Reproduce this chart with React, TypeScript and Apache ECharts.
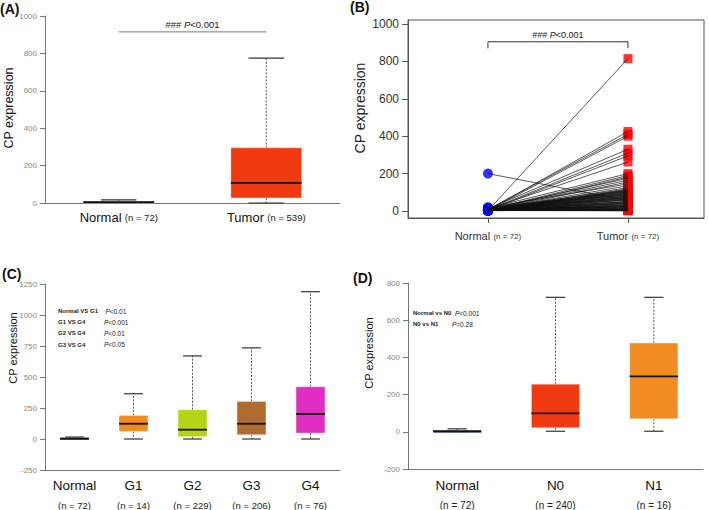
import React, { useEffect, useRef } from 'react';
import * as echarts from 'echarts';

// ---------- Panel A ----------
const catsA = ['Normal', 'Tumor'];
const nA = ['72', '539'];
// [min, q1, median, q3, max]
const statsA = [
  [0, 2, 5, 8, 17],
  [0, 27, 108, 295, 775],
];
const sigA = 915;

// ---------- Panel B (paired) ----------
const catsB = ['Normal', 'Tumor'];
const nB = ['72', '72'];
const yTicksB = [0, 200, 400, 600, 800, 1000];
const normalB = [
  2, 5, 8, 3, 12, 6, 4, 10, 15, 7,
  3, 9, 5, 2, 18, 6, 4, 11, 3, 8,
  5, 2, 7, 14, 4, 6, 3, 9, 2, 5,
  20, 4, 7, 3, 6, 12, 2, 5, 8, 3,
  4, 6, 200, 2, 9, 5, 3, 7, 4, 10,
  2, 6, 3, 5, 8, 2, 4, 16, 3, 6,
  2, 5, 7, 3, 4, 2, 9, 3, 5, 2,
  4, 3,
];
const tumorB = [
  815, 425, 410, 400, 330, 310, 295, 262, 200, 190,
  182, 175, 165, 155, 145, 135, 125, 118, 115, 112,
  110, 108, 105, 102, 100, 98, 95, 92, 90, 88,
  85, 82, 80, 78, 75, 72, 70, 68, 65, 62,
  60, 58, 55, 52, 50, 48, 45, 42, 40, 38,
  35, 32, 30, 28, 26, 24, 22, 20, 18, 16,
  14, 12, 10, 9, 8, 7, 6, 5, 4, 3,
  2, 1,
];
const sigB = 905;

// ---------- Panel C ----------
const catsC = ['Normal', 'G1', 'G2', 'G3', 'G4'];
const nC = ['72', '14', '229', '206', '76'];
const statsC = [
  [0, 1, 4, 8, 16],
  [0, 62, 123, 190, 365],
  [0, 19, 75, 236, 670],
  [0, 35, 123, 303, 735],
  [0, 48, 201, 421, 1188],
];
const compC = ['Normal VS G1', 'G1 VS G4', 'G2 VS G4', 'G3 VS G4'];
const pC = ['<0.01', '<0.001', '<0.01', '<0.05'];

// ---------- Panel D ----------
const catsD = ['Normal', 'N0', 'N1'];
const nD = ['72', '240', '16'];
const statsD = [
  [0, 1, 3, 6, 16],
  [3, 22, 99, 256, 723],
  [3, 70, 298, 477, 723],
];
const compD = ['Normal vs N0', 'N0 vs N1'];
const pD = ['<0.001', '=0.28'];

// ---------- styles ----------
const SANS = "'Liberation Sans', Arial, sans-serif";
const colorsA = ['#25308C', '#F23A12'];
const colorsC = ['#444444', '#F28A1F', '#B5D414', '#B06C30', '#E02DC2'];
const colorsD = ['#2B3A9A', '#F23A12', '#F08C22'];

const boxRender = (colors: string[], widthFrac: number, capFrac: number) => (params: any, api: any) => {
  const i = params.dataIndex;
  const x = api.value(0);
  const mn = api.value(1), q1 = api.value(2), md = api.value(3), q3 = api.value(4), mx = api.value(5);
  const band = api.size([1, 0])[0];
  const w = band * widthFrac;
  const cw = w * capFrac;
  const cx = api.coord([x, md])[0];
  const y = (v: number) => api.coord([x, v])[1];
  const dash = { stroke: '#555', lineWidth: 1, lineDash: [2, 1.5] };
  const solid = { stroke: '#333', lineWidth: 1.2 };
  const top = y(q3);
  const h = Math.max(y(q1) - top, 2);
  return {
    type: 'group',
    children: [
      { type: 'line', shape: { x1: cx, y1: y(q3), x2: cx, y2: y(mx) }, style: dash },
      { type: 'line', shape: { x1: cx, y1: y(q1), x2: cx, y2: y(mn) }, style: dash },
      { type: 'line', shape: { x1: cx - cw / 2, y1: y(mx), x2: cx + cw / 2, y2: y(mx) }, style: solid },
      { type: 'line', shape: { x1: cx - cw / 2, y1: y(mn), x2: cx + cw / 2, y2: y(mn) }, style: solid },
      { type: 'rect', shape: { x: cx - w / 2, y: top, width: w, height: h }, style: { fill: colors[i], stroke: 'rgba(255,255,255,0.35)', lineWidth: 1 } },
      { type: 'line', shape: { x1: cx - w / 2, y1: y(md), x2: cx + w / 2, y2: y(md) }, style: { stroke: '#111', lineWidth: 1.8 } },
    ],
  };
};

const boxData = (stats: number[][]) => stats.map((s, i) => [i, ...s]);

const catLabel = (ns: string[], twoLine: boolean) => (v: string, i: number) =>
  twoLine ? `{a|${v}}\n{b|(n = ${ns[i]})}` : `{a|${v}} {b|(n = ${ns[i]})}`;

export default function App() {
  const ref = useRef<HTMLDivElement>(null);
  useEffect(() => {
    document.body.style.margin = '0';
    if (!ref.current) return;
    const chart = echarts.init(ref.current, null, { renderer: 'svg' });
    const gray = '#777';
    const valueAxisGray = (gridIndex: number, min: number, max: number, interval: number) => ({
      gridIndex, type: 'value', min, max, interval,
      axisLine: { show: true, onZero: false, lineStyle: { color: gray } },
      axisTick: { show: true, length: 5, lineStyle: { color: gray } },
      axisLabel: { fontSize: 8, color: '#888', margin: 8, fontFamily: SANS, formatter: (v: number) => String(v) },
      splitLine: { show: false },
    });
    const option: any = {
      animation: false,
      grid: [
        { left: 45, right: 369, top: 16, bottom: 307 },
        { left: 408, right: 5, top: 20, bottom: 292, show: true, borderColor: '#555', borderWidth: 1, backgroundColor: 'transparent' },
        { left: 45, right: 369, top: 284, bottom: 39 },
        { left: 408, right: 6, top: 283, bottom: 41 },
      ],
      xAxis: [
        {
          gridIndex: 0, type: 'category', data: catsA,
          axisTick: { show: false }, axisLine: { lineStyle: { color: gray } },
          axisLabel: {
            margin: 8, interval: 0, hideOverlap: false, formatter: catLabel(nA, false),
            rich: { a: { fontSize: 13, fontFamily: SANS, color: '#111' }, b: { fontSize: 9.5, fontFamily: SANS, color: '#222' } },
          },
        },
        {
          gridIndex: 1, type: 'value', min: -0.571, max: 1.543,
          splitLine: { show: false },
          axisLine: { show: true, onZero: false, lineStyle: { color: '#555' } },
          axisTick: { show: true, length: 5, customValues: [0, 1], lineStyle: { color: '#555' } },
          axisLabel: {
            customValues: [0, 1], margin: 12,
            formatter: (v: number) => `{a|${catsB[v]}} {b|(n = ${nB[v]})}`,
            rich: { a: { fontSize: 11, fontFamily: SANS, color: '#333' }, b: { fontSize: 8, fontFamily: SANS, color: '#333' } },
          },
        },
        {
          gridIndex: 2, type: 'category', data: catsC,
          axisTick: { show: false }, axisLine: { onZero: false, lineStyle: { color: gray } },
          axisLabel: {
            margin: 5, interval: 0, hideOverlap: false, formatter: catLabel(nC, true),
            rich: { a: { fontSize: 13.5, lineHeight: 20, fontFamily: SANS, color: '#111' }, b: { fontSize: 9.5, lineHeight: 20, fontFamily: SANS, color: '#222' } },
          },
        },
        {
          gridIndex: 3, type: 'category', data: catsD,
          axisTick: { show: false }, axisLine: { onZero: false, lineStyle: { color: gray } },
          axisLabel: {
            margin: 6, interval: 0, hideOverlap: false, formatter: catLabel(nD, true),
            rich: { a: { fontSize: 13.5, lineHeight: 20, fontFamily: SANS, color: '#111' }, b: { fontSize: 10, lineHeight: 20, fontFamily: SANS, color: '#222' } },
          },
        },
      ],
      yAxis: [
        valueAxisGray(0, 0, 1000, 200),
        {
          gridIndex: 1, type: 'value', min: -37.4, max: 1021.4,
          splitLine: { show: false },
          axisLine: { show: true, onZero: false, lineStyle: { color: '#555' } },
          axisTick: { show: true, length: 6, customValues: yTicksB, lineStyle: { color: '#555' } },
          axisLabel: { customValues: yTicksB, fontSize: 12, color: '#333', margin: 9, fontFamily: SANS, formatter: (v: number) => String(v) },
        },
        valueAxisGray(2, -250, 1250, 250),
        valueAxisGray(3, -200, 800, 200),
      ],
      series: [
        {
          type: 'custom', xAxisIndex: 0, yAxisIndex: 0, data: boxData(statsA),
          encode: { x: 0, y: [1, 2, 3, 4, 5] }, renderItem: boxRender(colorsA, 0.48, 0.5),
        },
        {
          type: 'custom', xAxisIndex: 0, yAxisIndex: 0, data: [[0, 1, sigA]],
          encode: { x: [0, 1], y: 2 },
          renderItem: (params: any, api: any) => {
            const p0 = api.coord([api.value(0), api.value(2)]);
            const p1 = api.coord([api.value(1), api.value(2)]);
            return {
              type: 'group', children: [
                { type: 'line', shape: { x1: p0[0], y1: p0[1], x2: p1[0], y2: p1[1] }, style: { stroke: '#777', lineWidth: 1 } },
                {
                  type: 'text', x: (p0[0] + p1[0]) / 2, y: p0[1] - 7,
                  style: {
                    text: '{a|### }{b|P}{a|<0.001}', align: 'center', verticalAlign: 'middle',
                    rich: { a: { fontSize: 9.5, fontFamily: SANS, fill: '#222' }, b: { fontSize: 9.5, fontFamily: SANS, fontStyle: 'italic', fill: '#222' } },
                  },
                },
              ],
            };
          },
        },
        // Panel B
        {
          type: 'scatter', xAxisIndex: 1, yAxisIndex: 1, symbol: 'rect', symbolSize: 9,
          itemStyle: { color: '#FF0000' }, z: 2,
          data: tumorB.map((t) => [1, t]),
        },
        {
          type: 'scatter', xAxisIndex: 1, yAxisIndex: 1, symbol: 'circle', symbolSize: 10,
          itemStyle: { color: '#0000FF' }, z: 2,
          data: normalB.map((n) => [0, n]),
        },
        {
          type: 'custom', xAxisIndex: 1, yAxisIndex: 1, z: 3,
          data: normalB.map((n, i) => [0, n, 1, tumorB[i]]),
          encode: { x: [0, 2], y: [1, 3] },
          renderItem: (params: any, api: any) => {
            const p0 = api.coord([api.value(0), api.value(1)]);
            const p1 = api.coord([api.value(2), api.value(3)]);
            return { type: 'line', shape: { x1: p0[0], y1: p0[1], x2: p1[0], y2: p1[1] }, style: { stroke: '#111', lineWidth: 0.7 } };
          },
        },
        {
          type: 'custom', xAxisIndex: 1, yAxisIndex: 1, z: 3,
          data: [[0, 1, sigB, 870]],
          encode: { x: [0, 1], y: [2, 3] },
          renderItem: (params: any, api: any) => {
            const a = api.coord([api.value(0), api.value(2)]);
            const b = api.coord([api.value(1), api.value(2)]);
            const yl = api.coord([0, api.value(3)])[1];
            return {
              type: 'group', children: [
                { type: 'polyline', shape: { points: [[a[0], yl], [a[0], a[1]], [b[0], b[1]], [b[0], yl]] }, style: { stroke: '#333', lineWidth: 1, fill: 'none' } },
                {
                  type: 'text', x: (a[0] + b[0]) / 2, y: a[1] - 7,
                  style: {
                    text: '{a|### }{b|P}{a|<0.001}', align: 'center', verticalAlign: 'middle',
                    rich: { a: { fontSize: 9, fontFamily: SANS, fill: '#222' }, b: { fontSize: 9, fontFamily: SANS, fontStyle: 'italic', fill: '#222' } },
                  },
                },
              ],
            };
          },
        },
        // Panel C
        {
          type: 'custom', xAxisIndex: 2, yAxisIndex: 2, data: boxData(statsC),
          encode: { x: 0, y: [1, 2, 3, 4, 5] }, renderItem: boxRender(colorsC, 0.49, 0.65),
        },
        // Panel D
        {
          type: 'custom', xAxisIndex: 3, yAxisIndex: 3, data: boxData(statsD),
          encode: { x: 0, y: [1, 2, 3, 4, 5] }, renderItem: boxRender(colorsD, 0.49, 0.4),
        },
      ],
      graphic: [
        { type: 'text', x: 0, y: 9, style: { text: '(A)', fontSize: 14, fontWeight: 'bold', fontFamily: SANS, fill: '#111', verticalAlign: 'middle' } },
        { type: 'text', x: 350, y: 7, style: { text: '(B)', fontSize: 14, fontWeight: 'bold', fontFamily: SANS, fill: '#111', verticalAlign: 'middle' } },
        { type: 'text', x: 2, y: 274, style: { text: '(C)', fontSize: 14, fontWeight: 'bold', fontFamily: SANS, fill: '#111', verticalAlign: 'middle' } },
        { type: 'text', x: 353, y: 278, style: { text: '(D)', fontSize: 14, fontWeight: 'bold', fontFamily: SANS, fill: '#111', verticalAlign: 'middle' } },
        { type: 'text', x: 9, y: 108, rotation: Math.PI / 2, style: { text: 'CP expression', fontSize: 12.5, fontFamily: SANS, fill: '#111', align: 'center', verticalAlign: 'middle' } },
        { type: 'text', x: 360, y: 108, rotation: Math.PI / 2, style: { text: 'CP expression', fontSize: 14, fontFamily: SANS, fill: '#222', align: 'center', verticalAlign: 'middle' } },
        { type: 'text', x: 13, y: 348, rotation: Math.PI / 2, style: { text: 'CP expression', fontSize: 11, fontFamily: SANS, fill: '#111', align: 'center', verticalAlign: 'middle' } },
        { type: 'text', x: 369, y: 353, rotation: Math.PI / 2, style: { text: 'CP expression', fontSize: 11, fontFamily: SANS, fill: '#111', align: 'center', verticalAlign: 'middle' } },
        ...compC.map((c, i) => ({
          type: 'text', x: 58, y: 311 + i * 11.2,
          style: { text: c, fontSize: 6, fontWeight: 'bold', fontFamily: SANS, fill: '#222', verticalAlign: 'middle' },
        })),
        ...pC.map((p, i) => ({
          type: 'text', x: i === 0 ? 105.5 : 104, y: 311 + i * 11.2,
          style: {
            text: `{i|P}{n|${p}}`, verticalAlign: 'middle',
            rich: { i: { fontSize: 6.5, fontStyle: 'italic', fontFamily: SANS, fill: '#222' }, n: { fontSize: 6.5, fontFamily: SANS, fill: '#222' } },
          },
        })),
        ...compD.map((c, i) => ({
          type: 'text', x: 413, y: 313 + i * 11,
          style: { text: c, fontSize: 6, fontWeight: 'bold', fontFamily: SANS, fill: '#222', verticalAlign: 'middle' },
        })),
        ...pD.map((p, i) => ({
          type: 'text', x: i === 0 ? 455 : 452, y: 313 + i * 11,
          style: {
            text: `{i|P}{n|${p}}`, verticalAlign: 'middle',
            rich: { i: { fontSize: 6.5, fontStyle: 'italic', fontFamily: SANS, fill: '#222' }, n: { fontSize: 6.5, fontFamily: SANS, fill: '#222' } },
          },
        })),
      ],
    };
    chart.setOption(option);
    return () => chart.dispose();
  }, []);
  return <div ref={ref} style={{ width: 709, height: 510, background: '#fff' }} />;
}
